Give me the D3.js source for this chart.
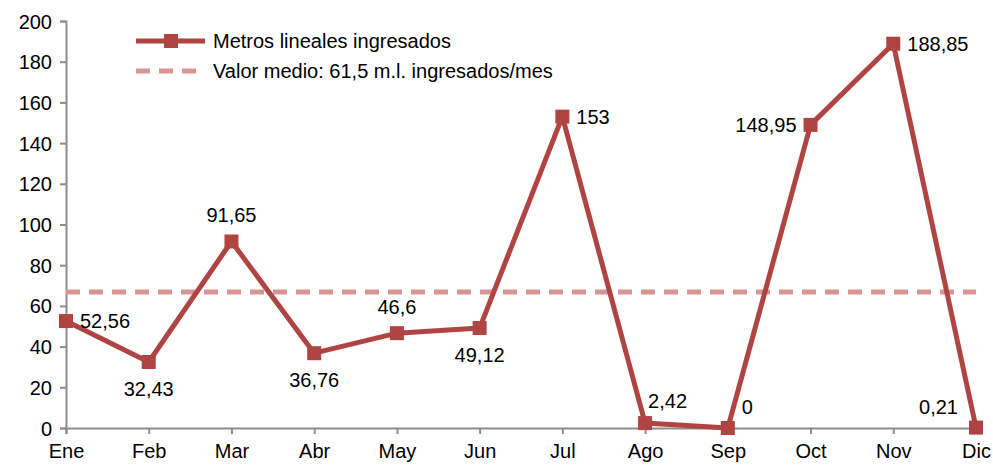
<!DOCTYPE html>
<html>
<head>
<meta charset="utf-8">
<script src="https://cdn.jsdelivr.net/npm/d3@7"></script>
<style>
  body { margin: 0; background: #fff; }
  svg text { font-family: "Liberation Sans Narrow", "Liberation Sans", sans-serif; fill: #000; }
</style>
</head>
<body>
<svg id="chart" width="993" height="467"></svg>
<script>
// data
const months = ["Ene","Feb","Mar","Abr","May","Jun","Jul","Ago","Sep","Oct","Nov","Dic"];
const metros = [52.56, 32.43, 91.65, 36.76, 46.6, 49.12, 153, 2.42, 0, 148.95, 188.85, 0.21];
const labels = ["52,56","32,43","91,65","36,76","46,6","49,12","153","2,42","0","148,95","188,85","0,21"];
const avgLine = 66.8;
const yTicks = [0,20,40,60,80,100,120,140,160,180,200];
const seriesName = "Metros lineales ingresados";
const avgName = "Valor medio: 61,5 m.l. ingresados/mes";

// where each label sits relative to its point
const labelPos = ["r","b","t","b","t","b","r","tn","tr","l","r","tl"];

const svg = d3.select("#chart");
const margin = { top: 21, right: 17, bottom: 39, left: 66 };
const W = 993 - margin.left - margin.right;
const H = 467 - margin.top - margin.bottom;

const lineColor = "#b04443";
const avgColor  = "#d99594";
const axisColor = "#8c8c8c";

const g = svg.append("g")
  .attr("transform", `translate(${margin.left},${margin.top})`);

const x = d3.scalePoint().domain(months).range([0, W]);
const y = d3.scaleLinear().domain([0, 200]).range([H, 0]);

// axes
const yAxis = g.append("g")
  .call(d3.axisLeft(y).tickValues(yTicks).tickSize(6).tickPadding(8));
const xAxis = g.append("g")
  .attr("transform", `translate(0,${H})`)
  .call(d3.axisBottom(x).tickSize(6).tickPadding(6));

[yAxis, xAxis].forEach(a => {
  a.select(".domain").attr("stroke", axisColor).attr("stroke-width", 2);
  a.selectAll(".tick line").attr("stroke", axisColor).attr("stroke-width", 2);
  a.selectAll(".tick text").style("font-size", "20px").attr("fill", "#000");
});
xAxis.selectAll(".tick text").attr("dy", "0.9em");
yAxis.selectAll(".tick text").attr("dy", "0.35em");

// average line
g.append("line")
  .attr("x1", 0).attr("x2", W)
  .attr("y1", y(avgLine)).attr("y2", y(avgLine))
  .attr("stroke", avgColor).attr("stroke-width", 5)
  .attr("stroke-dasharray", "14,9");

// series
g.append("path")
  .datum(metros)
  .attr("fill", "none")
  .attr("stroke", lineColor)
  .attr("stroke-width", 5)
  .attr("stroke-linejoin", "round")
  .attr("d", d3.line().x((d, i) => x(months[i])).y(d => y(d)));

g.selectAll("rect.mk")
  .data(metros).enter().append("rect")
    .attr("class", "mk")
    .attr("x", (d, i) => x(months[i]) - 7)
    .attr("y", d => y(d) - 7)
    .attr("width", 14).attr("height", 14)
    .attr("fill", lineColor);

// data labels
const off = {
  r:  [14, 0, "start"],
  l:  [-14, 0, "end"],
  t:  [0, -26, "middle"],
  b:  [0, 27, "middle"],
  tn: [3, -22, "start"],
  tr: [14, -21, "start"],
  tl: [-18, -21, "end"]
};
g.selectAll("text.lbl")
  .data(metros).enter().append("text")
    .attr("class", "lbl")
    .attr("x", (d, i) => x(months[i]) + off[labelPos[i]][0])
    .attr("y", (d, i) => y(d) + off[labelPos[i]][1])
    .attr("dy", "0.35em")
    .attr("text-anchor", (d, i) => off[labelPos[i]][2])
    .style("font-size", "20px")
    .text((d, i) => labels[i]);

// legend
const leg = svg.append("g").attr("transform", "translate(136,41)");
leg.append("line").attr("x1", 0).attr("x2", 69).attr("y1", 0).attr("y2", 0)
  .attr("stroke", lineColor).attr("stroke-width", 5);
leg.append("rect").attr("x", 28).attr("y", -7).attr("width", 14).attr("height", 14)
  .attr("fill", lineColor);
leg.append("text").attr("x", 77).attr("y", 0).attr("dy", "0.35em")
  .style("font-size", "20px").text(seriesName);
leg.append("line").attr("x1", 0).attr("x2", 69).attr("y1", 30).attr("y2", 30)
  .attr("stroke", avgColor).attr("stroke-width", 5).attr("stroke-dasharray", "14,9");
leg.append("text").attr("x", 77).attr("y", 30).attr("dy", "0.35em")
  .style("font-size", "20px").text(avgName);
</script>
</body>
</html>
